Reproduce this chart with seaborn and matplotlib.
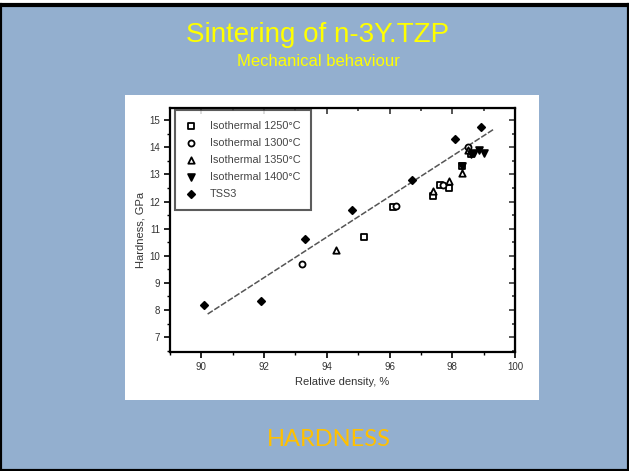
import matplotlib
matplotlib.use("Agg")
import matplotlib.pyplot as plt
from matplotlib.ticker import MultipleLocator
from matplotlib.patches import Rectangle
import seaborn as sns
import pandas as pd

# ---- data ----
iso1250_x = [95.2, 96.1, 97.4, 97.6, 97.9, 98.3, 98.6]
iso1250_y = [10.7, 11.8, 12.2, 12.6, 12.5, 13.3, 13.75]
iso1300_x = [93.2, 96.2, 97.7, 98.5]
iso1300_y = [9.7, 11.85, 12.6, 14.0]
iso1350_x = [94.3, 97.4, 97.9, 98.3, 98.5]
iso1350_y = [10.2, 12.4, 12.75, 13.05, 13.9]
iso1400_x = [98.3, 98.6, 98.7, 98.85, 99.0]
iso1400_y = [13.3, 13.75, 13.8, 13.9, 13.8]
tss3_x = [90.1, 91.9, 93.3, 94.8, 96.7, 98.1, 98.9]
tss3_y = [8.2, 8.33, 10.6, 11.7, 12.8, 14.3, 14.75]
fit_x = [90.2, 99.3]
fit_y = [7.85, 14.65]

series_labels = ["Isothermal 1250\u00b0C", "Isothermal 1300\u00b0C",
                 "Isothermal 1350\u00b0C", "Isothermal 1400\u00b0C", "TSS3"]
x_ticks = [90, 92, 94, 96, 98, 100]
y_ticks = [7, 8, 9, 10, 11, 12, 13, 14, 15]

title_text = "Sintering of n-3Y.TZP"
subtitle_text = "Mechanical behaviour"
footer_text = "HARDNESS"

sns.set_style("ticks")
plt.rcParams["font.family"] = ["Liberation Sans", "DejaVu Sans"]

W, H = 629, 471
fig = plt.figure(figsize=(W / 100, H / 100), dpi=100, facecolor="white")

# slide background with dark frame
bg = fig.add_axes([0, 0, 1, 1 - 5 / H])
bg.set_facecolor("#93afcf")
bg.set_xticks([]); bg.set_yticks([])
for s in bg.spines.values():
    s.set_color("black"); s.set_linewidth(3)

# white inset panel
panel = Rectangle((125 / W, 1 - 400 / H), 414 / W, 305 / H,
                  transform=fig.transFigure, facecolor="white",
                  edgecolor="none", zorder=1)
fig.patches.append(panel)

fig.text(0.505, 1 - 35 / H, title_text, color="#ffff00", fontsize=20,
         ha="center", va="center")
fig.text(0.507, 1 - 61 / H, subtitle_text, color="#ffff00", fontsize=12,
         ha="center", va="center")
fig.text(329 / W, 1 - 440 / H, footer_text, color="#ffc000", fontsize=17,
         ha="center", va="center", family=["Lato", "DejaVu Sans"])

# chart axes
ax = fig.add_axes([170 / W, 1 - 352 / H, 345 / W, 244 / H])
ax.set_zorder(5)
ax.set_facecolor("white")

df_list = [
    (iso1250_x, iso1250_y, "s", "white", 17),
    (iso1300_x, iso1300_y, "o", "white", 19),
    (iso1350_x, iso1350_y, "^", "white", 21),
    (iso1400_x, iso1400_y, "v", "black", 24),
    (tss3_x, tss3_y, "D", "black", 14),
]
for (xs, ys, mk, fc, sz), lab in zip(df_list, series_labels):
    d = pd.DataFrame({"x": xs, "y": ys})
    sns.scatterplot(data=d, x="x", y="y", marker=mk, s=sz, facecolor=fc,
                    edgecolor="black", linewidth=1.3, label=lab, ax=ax,
                    zorder=3)

fit_df = pd.DataFrame({"x": fit_x, "y": fit_y})
sns.lineplot(data=fit_df, x="x", y="y", color="#555555", linewidth=1.1,
             linestyle=(0, (4, 1.2)), ax=ax, label="_nolegend_", zorder=2)

ax.set_xlim(89, 100)
ax.set_ylim(6.45, 15.45)
ax.set_xticks(x_ticks)
ax.set_yticks(y_ticks)
ax.xaxis.set_minor_locator(MultipleLocator(1))
ax.yaxis.set_minor_locator(MultipleLocator(0.5))
ax.tick_params(which="major", direction="out", length=4, width=1.2,
               labelsize=7, colors="black", labelcolor="#333333", pad=3)
ax.tick_params(which="minor", direction="out", length=2.5, width=1.0,
               colors="black")
for s in ax.spines.values():
    s.set_visible(True)
    s.set_color("black")
    s.set_linewidth(1.6)

secx = ax.secondary_xaxis("top")
secx.set_xticks(x_ticks)
secx.xaxis.set_minor_locator(MultipleLocator(1))
secx.tick_params(which="both", direction="in", labeltop=False, width=1.1)
secx.tick_params(which="major", length=4)
secx.tick_params(which="minor", length=2.5)
secy = ax.secondary_yaxis("right")
secy.set_yticks(y_ticks)
secy.yaxis.set_minor_locator(MultipleLocator(0.5))
secy.tick_params(which="both", direction="in", labelright=False, width=1.1)
secy.tick_params(which="major", length=4)
secy.tick_params(which="minor", length=2.5)

ax.set_xlabel("Relative density, %", fontsize=8, color="#333333", labelpad=4)
ax.set_ylabel("Hardness, GPa", fontsize=8, color="#333333", labelpad=3)

leg = ax.legend(loc="upper left", bbox_to_anchor=(5 / 345, 1 - 2 / 244),
                borderaxespad=0, fontsize=7.8, frameon=True, fancybox=False,
                edgecolor="#333333", handlelength=1.0, handletextpad=1.2,
                labelspacing=0.65, borderpad=1.0, markerscale=1.0)
leg.get_frame().set_linewidth(1.5)
for t in leg.get_texts():
    t.set_color("#444444")

fig.savefig("out.png", dpi=100, facecolor=fig.get_facecolor())
